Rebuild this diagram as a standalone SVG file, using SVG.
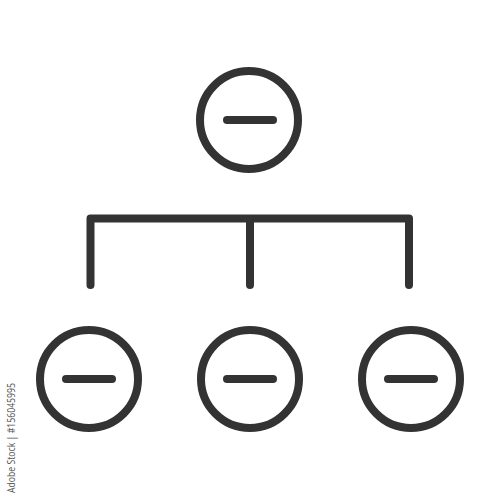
<svg xmlns="http://www.w3.org/2000/svg" width="500" height="500" viewBox="0 0 500 500">
<style>
.ln{fill:none;stroke:#333333;stroke-width:8;stroke-linecap:round;stroke-linejoin:round}
.wm{font-family:"Open Sans","Liberation Sans",sans-serif;font-size:10px;fill:#555555}
</style>
<rect width="500" height="500" fill="#ffffff"/>
<g id="connectors">
<path class="ln" d="M90.5,285 V218.5 H409 V285 M250,218.5 V285"/>
</g>
<g id="top">
<circle class="ln" cx="249" cy="120" r="49"/>
<line class="ln" x1="227" y1="120" x2="273" y2="120"/>
</g>
<g id="left">
<circle class="ln" cx="89" cy="379" r="49"/>
<line class="ln" x1="66" y1="379" x2="112" y2="379"/>
</g>
<g id="middle">
<circle class="ln" cx="250" cy="379" r="49"/>
<line class="ln" x1="227" y1="379" x2="273" y2="379"/>
</g>
<g id="right">
<circle class="ln" cx="411" cy="379" r="49"/>
<line class="ln" x1="388" y1="379" x2="434" y2="379"/>
</g>
<text class="wm" transform="translate(15,493) rotate(-90)" textLength="110" lengthAdjust="spacingAndGlyphs">Adobe Stock | #156045995</text>
</svg>
